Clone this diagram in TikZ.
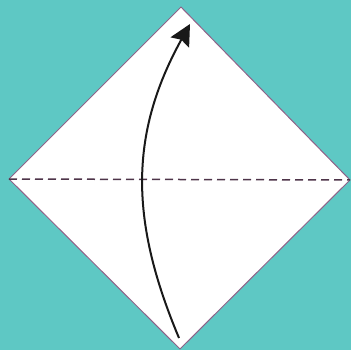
\documentclass[tikz,border=0pt]{standalone}
\usetikzlibrary{arrows.meta}
\definecolor{bgteal}{HTML}{5EC8C4}
\definecolor{edgepurple}{HTML}{8E6288}
\definecolor{dashcol}{HTML}{4E3449}
\tikzset{
  paper/.style={fill=white, draw=edgepurple, line width=1pt, line join=miter},
  foldline/.style={draw=dashcol, line width=1.5pt, dash pattern=on 8pt off 5pt},
  foldarrow/.style={draw=black!90, line width=2pt, -{Stealth[length=21pt,width=21pt,inset=3pt]}}
}
\begin{document}
\begin{tikzpicture}[x=1pt,y=-1pt]
\useasboundingbox (0,0) rectangle (351,350);
\fill[bgteal] (0,0) rectangle (351,350);
\coordinate (T) at (181,7);
\coordinate (L) at (9,179);
\coordinate (R) at (350,180);
\coordinate (B) at (180,349);
\draw[paper] (T) -- (R) -- (B) -- (L) -- cycle;
\draw[foldline] (L) -- (R);
\coordinate (s) at (179,338);
\coordinate (e) at (190,24);
\draw[foldarrow] (s) .. controls (130.7,223) and (128,136) .. (e);
\end{tikzpicture}
\end{document}
